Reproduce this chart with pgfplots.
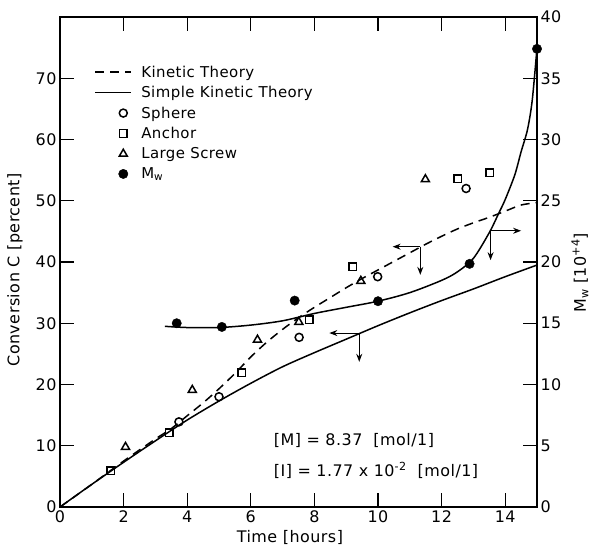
\documentclass[border=0pt]{standalone}
\usepackage{fontspec}
\setmainfont{DejaVu Sans}[LetterSpace=3]
\usepackage{pgfplots}
\pgfplotsset{compat=1.18}
\usetikzlibrary{arrows.meta}
\tikzset{mk/.style={line width=1.5bp, black, solid}}
\pgfplotsset{
  linelegend/.style={legend image code/.code={\draw[##1] (0bp,0bp) -- (36bp,0bp); \path[draw=none,fill=none] (0bp,-3bp) rectangle (44bp,3bp);}},
  marklegend/.style={legend image code/.code={\draw[##1] plot coordinates {(28bp,0bp)}; \path[draw=none,fill=none] (0bp,-3bp) rectangle (44bp,3bp);}},
}

\begin{document}
\begin{tikzpicture}[font=\fontsize{16}{18}\selectfont]
\pgfplotsset{
  base/.style={
    width=477bp, height=490bp, scale only axis,
    xmin=0, xmax=15, clip=false,
    tick align=inside, major tick length=14bp,
    axis line style={line width=1.6bp},
    tick style={line width=1.3bp, black},
    tick label style={font=\fontsize{16}{18}\selectfont},
    label style={font=\fontsize{16}{18}\selectfont},
  },
}
% ---- conversion axis (left) ----
\begin{axis}[base,
  ymin=0, ymax=80,
  xtick={0,2,...,14}, xticklabels={0,2,4,6,8,10,12,14},
  ytick={0,10,...,70}, yticklabels={0,10,20,30,40,50,60,70},
  ytick pos=left,
  xlabel={Time [hours]},
  xlabel style={at={(rel axis cs:0.482,0)}, anchor=center, yshift=-30bp},
  ylabel={Conversion C [percent]},
  ylabel style={at={(rel axis cs:0,0.484)}, anchor=center, yshift=45bp},
  legend style={draw=none, fill=none, at={(rel axis cs:0.072,0.905)}, anchor=north west,
    inner sep=0pt, row sep=3.6bp, nodes={inner sep=2bp}, font=\fontsize{15}{17}\selectfont},
  legend cell align=left,
]
\addplot[black, line width=1.5bp, dash pattern=on 9bp off 6bp, smooth, linelegend]
  coordinates {(0,0) (1,3.7) (2,7.5) (3,11.1) (3.5,12.8) (4,14.9) (4.5,17.0)
    (5,19.3) (5.5,21.8) (6,24.5) (6.5,26.9) (7,29.0) (7.5,30.9) (8,32.6)
    (8.5,34.2) (9,35.8) (9.5,37.3) (10,38.7) (10.5,40.1) (11,41.5) (11.5,42.9)
    (12,44.2) (12.5,45.4) (13,46.4) (13.5,47.3) (14,48.3) (14.5,49.3) (15,49.7)};
\addlegendentry{Kinetic Theory}
\addplot[black, line width=1.5bp, smooth, linelegend]
  coordinates {(0,0) (1,3.7) (2,7.3) (3,10.8) (4,14.2) (5,17.3) (6,20.2)
    (7,22.9) (8,25.2) (9,27.4) (10,29.6) (11,31.7) (12,33.7) (13,35.6)
    (14,37.6) (15,39.5)};
\addlegendentry{Simple Kinetic Theory}
\addplot[only marks, mark=o, mark size=4bp, mark options={mk}, marklegend]
  coordinates {(3.74,13.9) (5.0,18.0) (7.52,27.7) (9.99,37.6) (12.77,52.0)};
\addlegendentry{Sphere}
\addplot[only marks, mark=square, mark size=3.8bp, mark options={mk}, marklegend]
  coordinates {(1.59,5.9) (3.43,12.1) (5.72,21.9) (7.84,30.6) (9.21,39.2)
    (12.51,53.6) (13.51,54.6)};
\addlegendentry{Anchor}
\addplot[only marks, mark=triangle, mark size=4.6bp, mark options={mk}, marklegend]
  coordinates {(2.06,9.8) (4.16,19.1) (6.21,27.3) (7.51,30.2) (9.46,36.9)
    (11.49,53.5)};
\addlegendentry{Large Screw}
\addlegendimage{only marks, mark=*, mark size=4.7bp, mark options={black}, marklegend}
\addlegendentry{M\textsubscript{w}}
% arrows showing which axis each curve belongs to
\draw[-{Stealth[length=8bp,width=6bp]}, line width=1.1bp] (axis cs:11.33,42.5) -- (axis cs:10.46,42.5);
\draw[-{Stealth[length=8bp,width=6bp]}, line width=1.1bp] (axis cs:11.33,42.5) -- (axis cs:11.33,37.9);
\draw[-{Stealth[length=8bp,width=6bp]}, line width=1.1bp] (axis cs:9.41,28.4) -- (axis cs:8.47,28.4);
\draw[-{Stealth[length=8bp,width=6bp]}, line width=1.1bp] (axis cs:9.41,28.4) -- (axis cs:9.41,23.7);
\draw[-{Stealth[length=8bp,width=6bp]}, line width=1.1bp] (axis cs:13.54,45.1) -- (axis cs:14.50,45.1);
\draw[-{Stealth[length=8bp,width=6bp]}, line width=1.1bp] (axis cs:13.54,45.1) -- (axis cs:13.54,40.3);
\node[anchor=west, inner sep=0pt] at (axis cs:6.72,10.8) {[M] = 8.37\ \ [mol/1]};
\node[anchor=west, inner sep=0pt] at (axis cs:6.72,6.0) {[I] = 1.77 x 10\textsuperscript{-2}\ \ [mol/1]};
\path (rel axis cs:0,0) ++(-60bp,-41bp) (rel axis cs:1,1) ++(62bp,17bp);
\end{axis}
% ---- molecular weight axis (right) ----
\begin{axis}[base,
  ymin=0, ymax=40, ytick={0,5,...,40}, yticklabels={0,5,10,15,20,25,30,35,40},
  axis y line*=right, axis x line=none,
  ylabel={M\textsubscript{w}\ [10\textsuperscript{+4}]},
  ylabel style={at={(rel axis cs:1,0.478)}, anchor=center, yshift=-43bp},
]
\addplot[black, line width=1.5bp, smooth]
  coordinates {(3.3,14.75) (4,14.65) (5,14.65) (6,14.85) (7,15.2) (8,15.8)
    (9,16.3) (10,16.8) (11,17.5) (12,18.5) (12.5,19.2) (13,20.3) (13.5,22.4)
    (13.8,24.0) (14,25.1) (14.3,27.1) (14.5,29.0) (14.7,30.8) (14.85,33.2) (15,37.5)};
\addplot[only marks, mark=*, mark size=4.7bp, mark options={black}]
  coordinates {(3.67,15.0) (5.09,14.7) (7.38,16.85) (10.0,16.8) (12.88,19.85) (15.0,37.4)};
\end{axis}
\end{tikzpicture}
\end{document}
